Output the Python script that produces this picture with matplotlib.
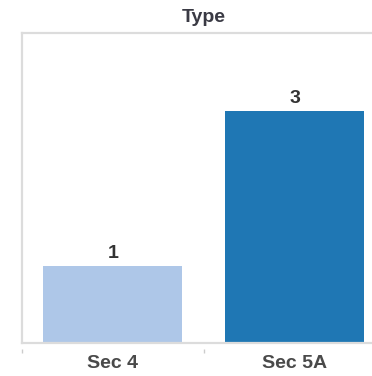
import matplotlib
matplotlib.use("Agg")
import matplotlib.pyplot as plt
from matplotlib.transforms import blended_transform_factory

categories = ["Sec 4", "Sec 5A"]
values = [1, 3]
colors = ["#aec7e8", "#1f77b4"]
title = "Type"

plt.rcParams['font.family'] = ['Liberation Sans', 'DejaVu Sans']

fig = plt.figure(figsize=(3.72, 3.76), dpi=100)
ax = fig.add_axes([21.8/372, 33/376, 364/372, 310/376])

x = list(range(len(categories)))
ax.bar(x, values, width=0.764, color=colors)
ax.set_xlim(-0.5, len(categories) - 0.5)
ax.set_ylim(0, 4)

for xi, v in zip(x, values):
    ax.annotate(str(v), (xi, v), xytext=(0, 5.5), textcoords='offset points',
                ha='center', va='baseline', fontsize=14, fontweight='bold',
                color='#333333')

ax.set_xticks(x)
ax.set_xticklabels(categories, fontsize=14, fontweight='bold', color='#4a4a4a')
ax.tick_params(axis='x', length=0, pad=8.5)
ax.set_yticks([])

for s in ['left', 'top', 'bottom', 'right']:
    ax.spines[s].set_color('#dcdcdc')
    ax.spines[s].set_linewidth(1.6)

trans = blended_transform_factory(ax.transData, ax.transAxes)
ax.vlines([-0.5, 0.5], -0.032, -0.019, transform=trans, colors='#cccccc',
          linewidth=1, clip_on=False)

fig.text(203.5/372, 1 - 22/376, title, ha='center', va='baseline', fontsize=14,
         fontweight='bold', color='#3a3a44')

fig.savefig("out.png", dpi=100)
